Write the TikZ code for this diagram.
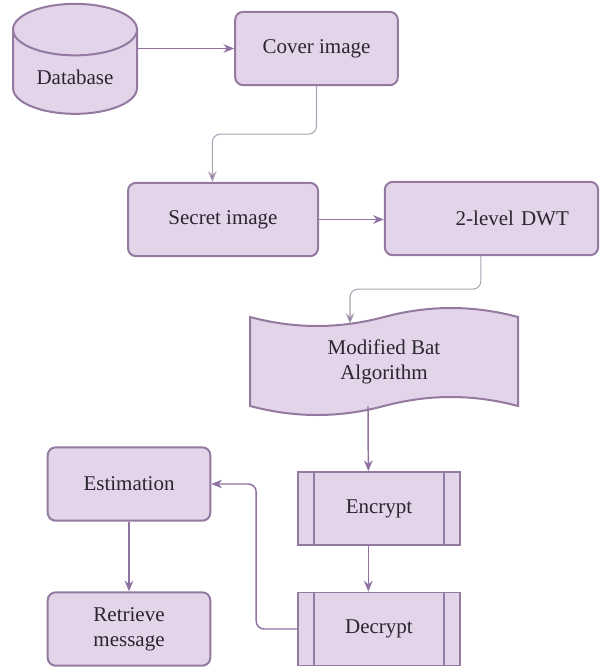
\documentclass[tikz,border=0pt]{standalone}
\usepackage{fontspec}
\setmainfont{Liberation Serif}
\usetikzlibrary{shapes.geometric, arrows.meta, backgrounds}

\definecolor{boxfill}{HTML}{E3D4E9}
\definecolor{boxline}{HTML}{9479A0}
\definecolor{flowline}{HTML}{8E72A0}
\definecolor{thinline}{HTML}{AFA2B4}
\definecolor{txt}{HTML}{2B2530}

\begin{document}
\begin{tikzpicture}[x=0.75pt, y=-0.75pt,
    every node/.style={font=\fontsize{15.75}{19}\selectfont, text=txt},
    box/.style={draw=boxline, fill=boxfill, line width=1.5pt, rounded corners=6pt, minimum width=122pt, minimum height=55pt, align=center},
    proc/.style={draw=boxline, fill=boxfill, line width=1.2pt, minimum width=121.5pt, minimum height=55pt,
        path picture={\draw[boxline, line width=1.2pt] ([xshift=12pt]path picture bounding box.north west) -- ([xshift=12pt]path picture bounding box.south west)
            ([xshift=-12pt]path picture bounding box.north east) -- ([xshift=-12pt]path picture bounding box.south east);}},
    flow/.style={draw=flowline, line width=1.1pt, -{Stealth[length=8pt, width=6.5pt]}},
    thinflow/.style={draw=thinline, line width=0.8pt, rounded corners=6pt, -{Stealth[length=8pt, width=6.5pt, fill=flowline]}}]
    \useasboundingbox (0,0) rectangle (600,668);

    \node[cylinder, shape border rotate=90, aspect=0.6, draw=boxline, fill=boxfill, line width=1.5pt, minimum width=93pt, minimum height=82.5pt] (db) at (75,77) {Database};
    \node[box] (cover) at (316.5,48.5) {Cover image};
    \node[box, minimum width=142.5pt] (secret) at (223,219.5) {Secret image};
    \node[box, minimum width=160pt, text width=116pt, inner xsep=21.75pt, align=right] (dwt) at (491.5,218.5) {2-level DWT};
    \node[minimum width=201pt, minimum height=66pt, align=center] (bat) at (384,362) {Modified Bat\\Algorithm};
    \node[proc] (encrypt) at (379,508.5) {Encrypt};
    \node[proc] (decrypt) at (379,629) {Decrypt};
    \node[box] (est) at (129,484) {Estimation};
    \node[box, align=center] (retr) at (129,629) {Retrieve\\message};

    % wavy outline behind the bat node
    \begin{scope}[on background layer, shift={(bat.center)}]
        \draw[boxline, fill=boxfill, line width=1.5pt] (-134,-45) .. controls (-89,-33) and (-45,-33) .. (0,-45)
            .. controls (45,-57) and (89,-57) .. (134,-45) -- (134,44)
            .. controls (89,32) and (45,32) .. (0,44)
            .. controls (-45,56) and (-89,56) .. (-134,44) -- cycle;
    \end{scope}

    \draw[flow] (db.east |- cover.west) -- (cover.west);
    \draw[thinflow] (cover.south) -- ++(0,48) -| ([xshift=-8pt]secret.north);
    \draw[flow] (secret.east) -- (secret.east -| dwt.west);
    \draw[thinflow] ([xshift=-8pt]dwt.south) -- ++(0,33) -| ([xshift=-25.5pt, yshift=-4.5pt]bat.north);
    \draw[flow] ([xshift=-12pt]bat.south) -- ([xshift=-8pt]encrypt.north);
    \draw[flow] ([xshift=-8pt]encrypt.south) -- ([xshift=-8pt]decrypt.north);
    \draw[flow, rounded corners=6pt] (decrypt.west) -- ++(-41,0) |- (est.east);
    \draw[flow] (est.south) -- (retr.north);
\end{tikzpicture}
\end{document}
